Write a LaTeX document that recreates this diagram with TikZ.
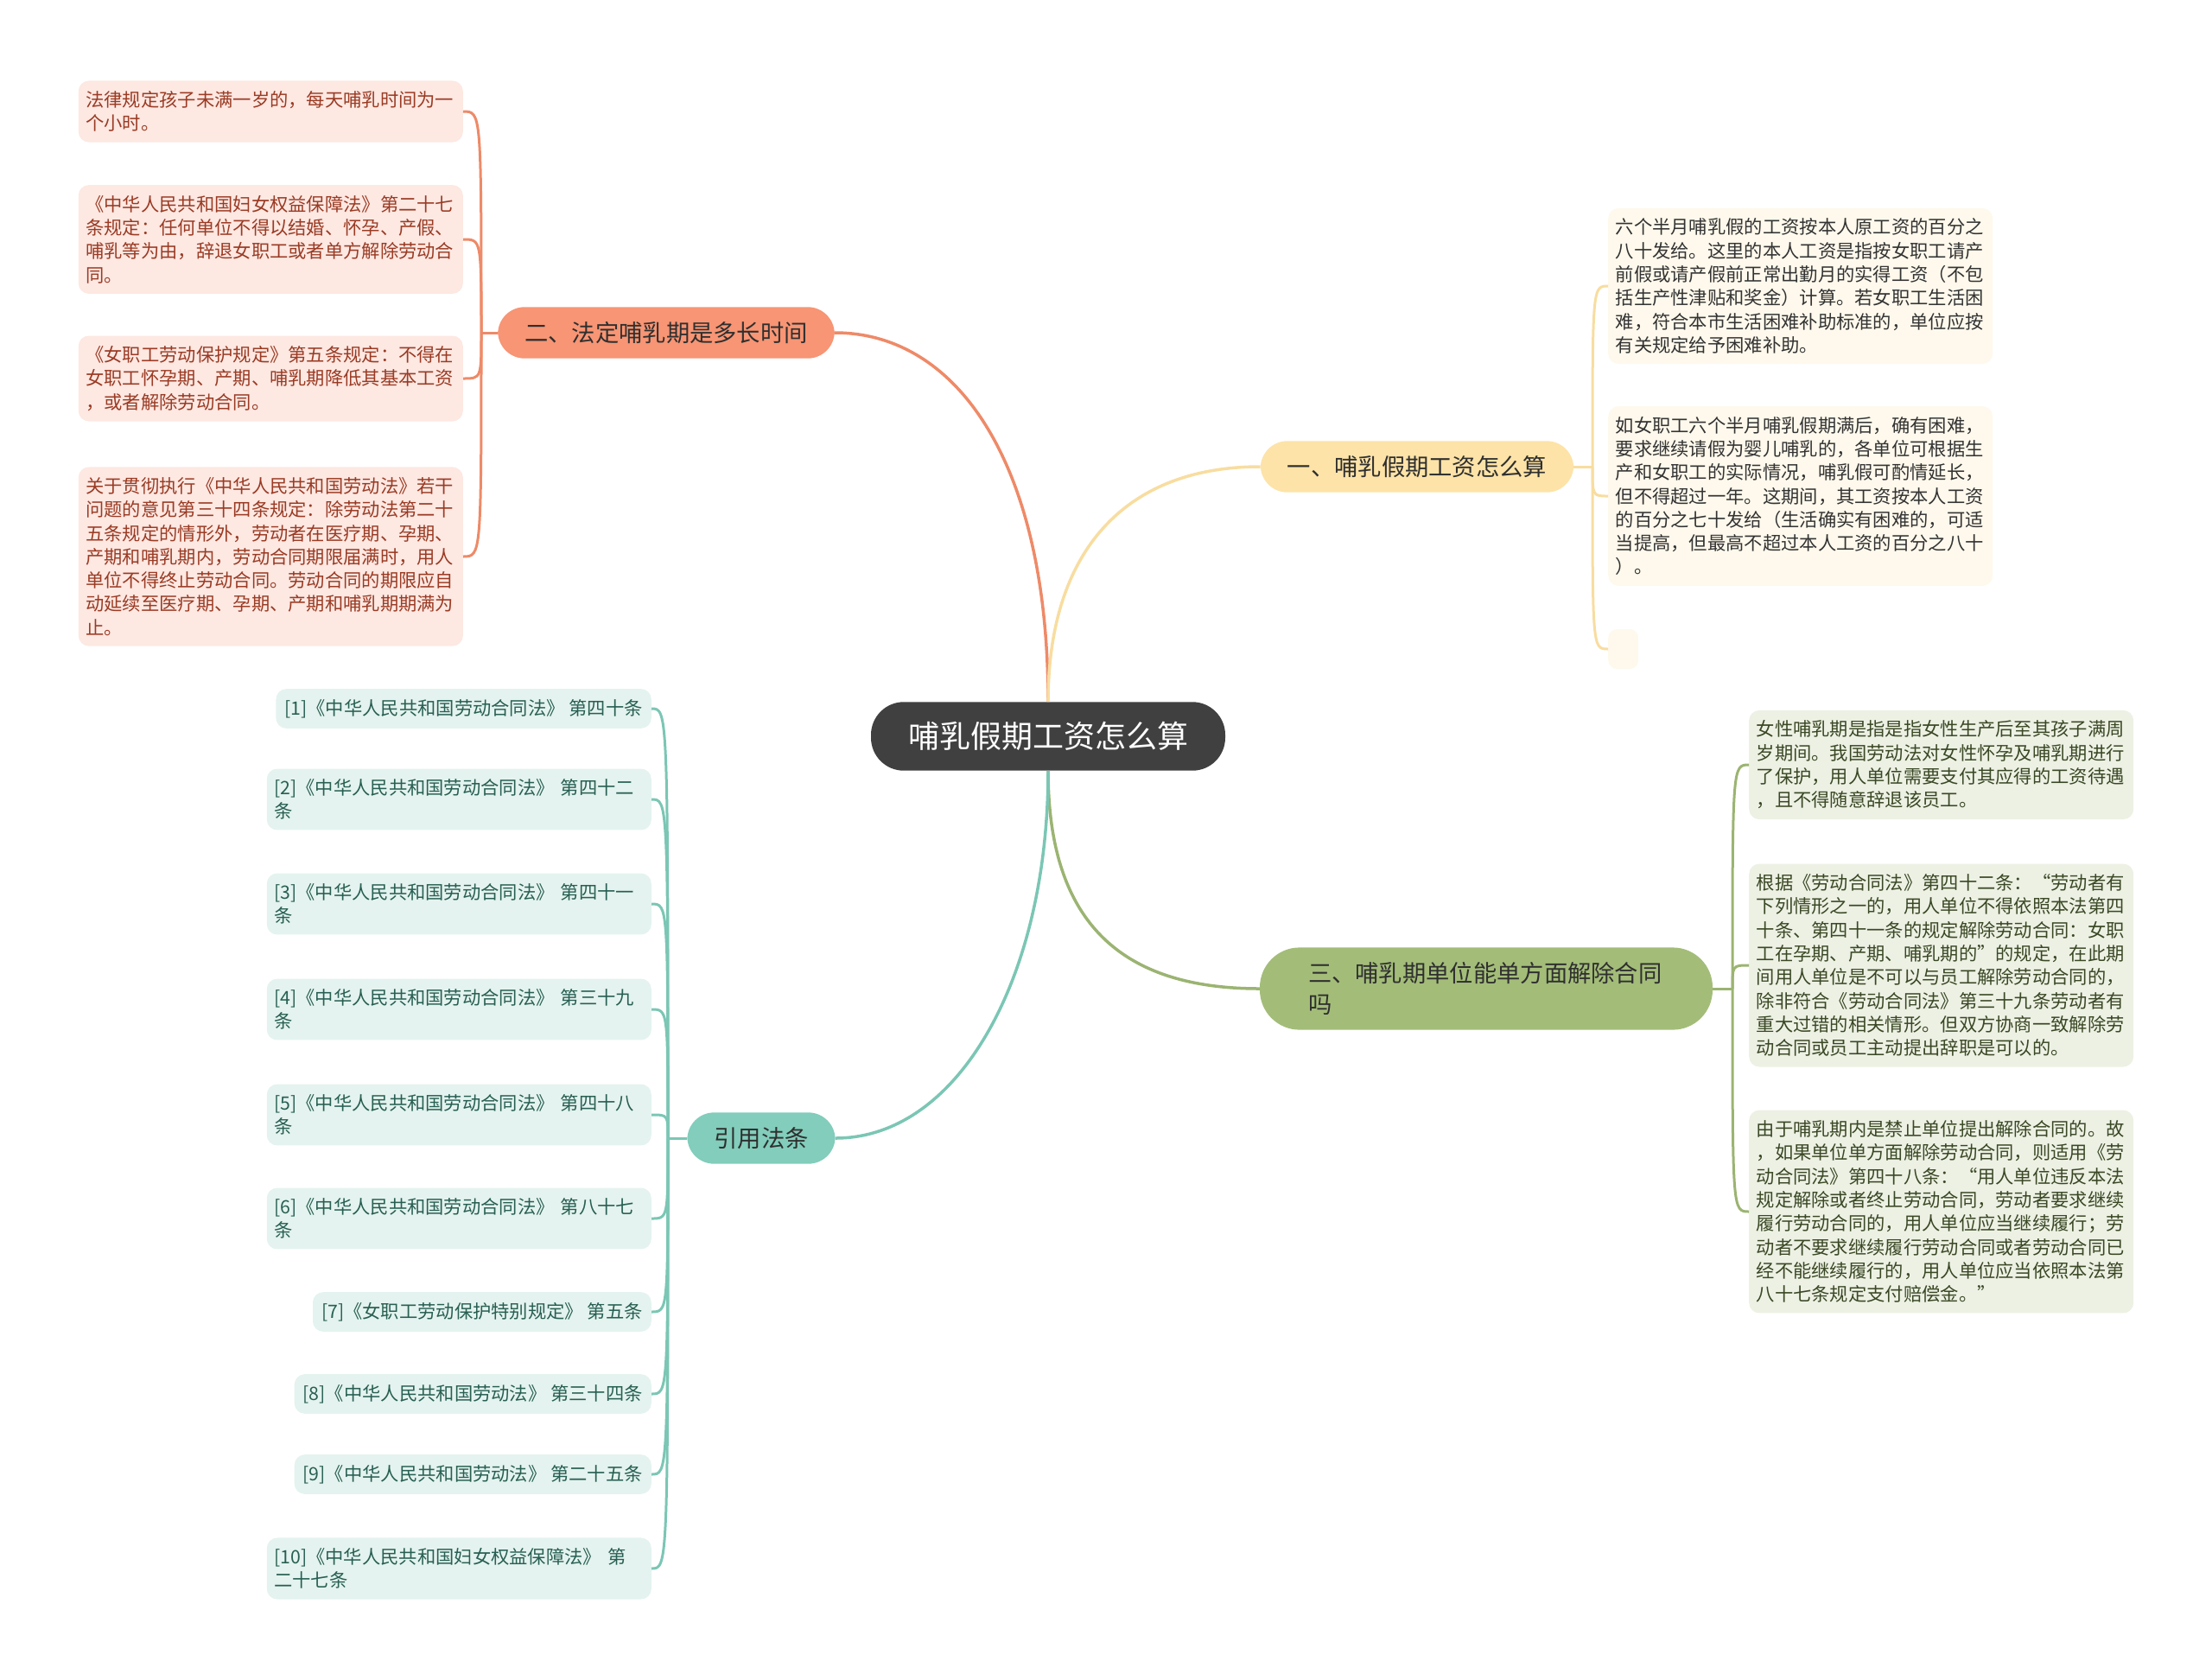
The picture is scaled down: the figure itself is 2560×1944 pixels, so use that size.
\documentclass[tikz,border=0pt]{standalone}
\usepackage{fontspec}
\setmainfont{Noto Sans CJK SC}
\usetikzlibrary{positioning}

\definecolor{rootgray}{HTML}{404040}
\definecolor{topictext}{HTML}{2F2F2F}
\definecolor{salmon}{HTML}{F79574}
\definecolor{salmonline}{HTML}{EE8A68}
\definecolor{sand}{HTML}{FDE3A7}
\definecolor{sandline}{HTML}{F8DDA0}
\definecolor{olive}{HTML}{A3BD79}
\definecolor{oliveline}{HTML}{9BB472}
\definecolor{teal}{HTML}{82CDBB}
\definecolor{tealline}{HTML}{7BC6B4}
\definecolor{pinkbg}{HTML}{FDE8E2}
\definecolor{pinktext}{HTML}{9A3B24}
\definecolor{creambg}{HTML}{FEF9EC}
\definecolor{creamtext}{HTML}{333333}
\definecolor{greenbg}{HTML}{EDF1E4}
\definecolor{greentext}{HTML}{3A4825}
\definecolor{refbg}{HTML}{E4F3EF}
\definecolor{reftext}{HTML}{285F52}

\begin{document}
\begin{tikzpicture}[x=1pt,y=-1pt]

\useasboundingbox (0,0) rectangle (2560,1944);

\tikzstyle{root}=[fill=rootgray, text=white, rounded corners=38pt,
inner xsep=43pt, inner ysep=23pt, font=\fontsize{36}{40}\selectfont];
\tikzstyle{topic}=[rounded corners=31pt, inner xsep=31pt, inner ysep=17pt,
text=topictext, font=\fontsize{27.3}{36}\selectfont];
\tikzstyle{leaf}=[rounded corners=12pt, inner xsep=8.5pt, inner ysep=12pt,
text width=428pt, align=left, font=\fontsize{21.3}{27.3}\selectfont];
\tikzstyle{refone}=[rounded corners=12pt, inner xsep=10pt, inner ysep=12pt,
fill=refbg, text=reftext, anchor=east, font=\fontsize{21.3}{27.3}\selectfont];
\tikzstyle{reftwo}=[leaf, fill=refbg, text=reftext, anchor=east];
\tikzstyle{mainline}=[line width=3.5pt];
\tikzstyle{subline}=[line width=3pt];

\node[root] (c) at (1213,852) {哺乳假期工资怎么算};

\node[topic, fill=salmon] (b2) at (771,385) {二、法定哺乳期是多长时间};
\node[topic, fill=sand] (b1) at (1640,540) {一、哺乳假期工资怎么算};
\node[topic, fill=olive, text width=412pt, inner xsep=56pt, rounded corners=46pt,
align=left] (b3) at (1720,1144) {三、哺乳期单位能单方面解除合同\\吗};
\node[topic, fill=teal] (bq) at (881,1317) {引用法条};

% left, pink
\node[leaf, fill=pinkbg, text=pinktext, anchor=east] (l1) at (536,129) {法律规定孩子未满一岁的，每天哺乳时间为一\\个小时。};
\node[leaf, fill=pinkbg, text=pinktext, anchor=east] (l2) at (536,277) {《中华人民共和国妇女权益保障法》第二十七\\条规定：任何单位不得以结婚、怀孕、产假、\\哺乳等为由，辞退女职工或者单方解除劳动合\\同。};
\node[leaf, fill=pinkbg, text=pinktext, anchor=east] (l3) at (536,438) {《女职工劳动保护规定》第五条规定：不得在\\女职工怀孕期、产期、哺乳期降低其基本工资\\，或者解除劳动合同。};
\node[leaf, fill=pinkbg, text=pinktext, anchor=east] (l4) at (536,644) {关于贯彻执行《中华人民共和国劳动法》若干\\问题的意见第三十四条规定：除劳动法第二十\\五条规定的情形外，劳动者在医疗期、孕期、\\产期和哺乳期内，劳动合同期限届满时，用人\\单位不得终止劳动合同。劳动合同的期限应自\\动延续至医疗期、孕期、产期和哺乳期期满为\\止。};

% right, cream
\node[leaf, fill=creambg, text=creamtext, anchor=west] (r1) at (1861,331) {六个半月哺乳假的工资按本人原工资的百分之\\八十发给。这里的本人工资是指按女职工请产\\前假或请产假前正常出勤月的实得工资（不包\\括生产性津贴和奖金）计算。若女职工生活困\\难，符合本市生活困难补助标准的，单位应按\\有关规定给予困难补助。};
\node[leaf, fill=creambg, text=creamtext, anchor=west] (r2) at (1861,574) {如女职工六个半月哺乳假期满后，确有困难，\\要求继续请假为婴儿哺乳的，各单位可根据生\\产和女职工的实际情况，哺乳假可酌情延长，\\但不得超过一年。这期间，其工资按本人工资\\的百分之七十发给（生活确实有困难的，可适\\当提高，但最高不超过本人工资的百分之八十\\）。};
\node[fill=creambg, rounded corners=10pt, minimum width=35pt, minimum height=46pt,
inner sep=0pt, anchor=west] (r3) at (1861,751) {};

% right, green
\node[leaf, fill=greenbg, text=greentext, anchor=west] (g1) at (2024,885) {女性哺乳期是指是指女性生产后至其孩子满周\\岁期间。我国劳动法对女性怀孕及哺乳期进行\\了保护，用人单位需要支付其应得的工资待遇\\，且不得随意辞退该员工。};
\node[leaf, fill=greenbg, text=greentext, anchor=west] (g2) at (2024,1117) {根据《劳动合同法》第四十二条：“劳动者有\\下列情形之一的，用人单位不得依照本法第四\\十条、第四十一条的规定解除劳动合同：女职\\工在孕期、产期、哺乳期的”的规定，在此期\\间用人单位是不可以与员工解除劳动合同的，\\除非符合《劳动合同法》第三十九条劳动者有\\重大过错的相关情形。但双方协商一致解除劳\\动合同或员工主动提出辞职是可以的。};
\node[leaf, fill=greenbg, text=greentext, anchor=west] (g3) at (2024,1402) {由于哺乳期内是禁止单位提出解除合同的。故\\，如果单位单方面解除劳动合同，则适用《劳\\动合同法》第四十八条：“用人单位违反本法\\规定解除或者终止劳动合同，劳动者要求继续\\履行劳动合同的，用人单位应当继续履行；劳\\动者不要求继续履行劳动合同或者劳动合同已\\经不能继续履行的，用人单位应当依照本法第\\八十七条规定支付赔偿金。”};

% left, references
\node[refone] (q1) at (754,820) {[1]《中华人民共和国劳动合同法》 第四十条};
\node[reftwo] (q2) at (754,925) {[2]《中华人民共和国劳动合同法》 第四十二\\条};
\node[reftwo] (q3) at (754,1046) {[3]《中华人民共和国劳动合同法》 第四十一\\条};
\node[reftwo] (q4) at (754,1168) {[4]《中华人民共和国劳动合同法》 第三十九\\条};
\node[reftwo] (q5) at (754,1290) {[5]《中华人民共和国劳动合同法》 第四十八\\条};
\node[reftwo] (q6) at (754,1410) {[6]《中华人民共和国劳动合同法》 第八十七\\条};
\node[refone] (q7) at (754,1518) {[7]《女职工劳动保护特别规定》 第五条};
\node[refone] (q8) at (754,1613) {[8]《中华人民共和国劳动法》 第三十四条};
\node[refone] (q9) at (754,1706) {[9]《中华人民共和国劳动法》 第二十五条};
\node[reftwo] (q10) at (754,1815) {[10]《中华人民共和国妇女权益保障法》 第\\二十七条};

% lines
\draw[mainline, salmonline] (c.north) .. controls (1213,540) and (1110,385) .. (b2.east);
\draw[mainline, sandline] (c.north) .. controls (1213,640) and (1300,540) .. (b1.west);
\draw[mainline, oliveline] (c.south) .. controls (1213,1070) and (1300,1144) .. (b3.west);
\draw[mainline, tealline] (c.south) .. controls (1213,1130) and (1110,1317) .. (bq.east);

\draw[subline, salmonline] (b2.west) -- (557,385) coordinate (s2);
\foreach \x in {l1,l2,l3,l4}
  \draw[subline, salmonline] (s2) .. controls (s2 |- \x.east) .. (\x.east);

\draw[subline, sandline] (b1.east) -- (1843,540) coordinate (s1);
\foreach \x in {r1,r2,r3}
  \draw[subline, sandline] (s1) .. controls (s1 |- \x.west) .. (\x.west);

\draw[subline, oliveline] (b3.east) -- (2005,1144) coordinate (s3);
\foreach \x in {g1,g2,g3}
  \draw[subline, oliveline] (s3) .. controls (s3 |- \x.west) .. (\x.west);

\draw[subline, tealline] (bq.west) -- (773,1317) coordinate (sq);
\foreach \x in {q1,q2,q3,q4,q5,q6,q7,q8,q9,q10}
  \draw[subline, tealline] (sq) .. controls (sq |- \x.east) .. (\x.east);

\end{tikzpicture}
\end{document}
